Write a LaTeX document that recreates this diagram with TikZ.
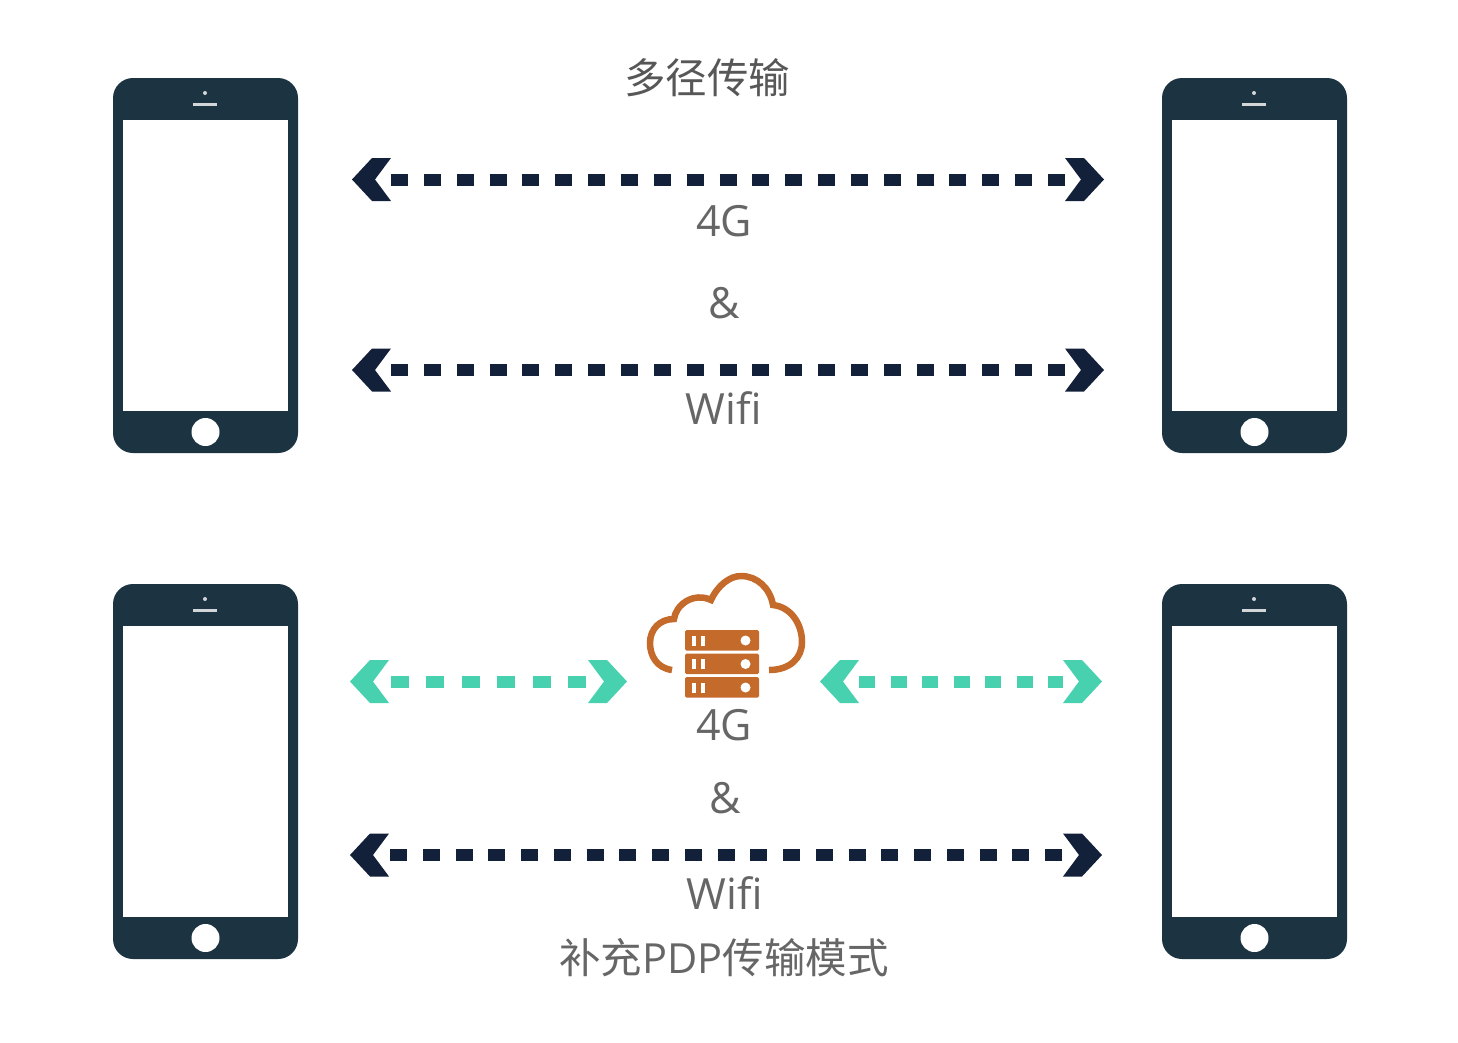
\documentclass[tikz,border=0pt]{standalone}
\usepackage{fontspec}
\setmainfont{Open Sans}
\newfontfamily\cjk{Noto Sans CJK SC}
\definecolor{phoneblue}{HTML}{1C3341}
\definecolor{linknavy}{HTML}{12203A}
\definecolor{linkteal}{HTML}{48D1AE}
\definecolor{cloudorange}{HTML}{C46A2B}
\definecolor{textgray}{HTML}{666666}
\tikzset{
  phonebody/.style={fill=phoneblue, rounded corners=20pt, minimum width=185pt, minimum height=375pt, inner sep=0pt},
  labeltext/.style={text=textgray, font=\fontsize{43}{46}\selectfont, inner sep=0pt},
  cjktext/.style={text=textgray, font=\fontsize{41.5}{44}\selectfont\cjk, inner sep=0pt},
  navylink/.style={linknavy, line width=12pt, shorten <=39pt, shorten >=39pt, dash pattern=on 17pt off 15.85pt},
  pics/chevron/.style={code={
    \fill[#1] (0,0)--(20,-21.5)--(39,-21.5)--(23,0)--(39,21.5)--(20,21.5)--cycle;
  }},
  pics/phone/.style={code={
    \node[phonebody] (-body) at (0,0) {};
    \fill[white] (-82.5,-145.5) rectangle (82.5,145.5);
    \fill[white] (0,166.5) circle (14);
    \fill[white!80!phoneblue] (-0.5,-172.5) circle (2);
    \fill[white!80!phoneblue] (-12.5,-163) rectangle (11.5,-160);
  }}
}

\begin{document}
\begin{tikzpicture}[x=1pt, y=-1pt]
\useasboundingbox (0,0) rectangle (1458,1042);
% phones
\pic (phoneA) at (205.5,265.5) {phone};
\pic (phoneB) at (1254.5,265.5) {phone};
\pic (phoneC) at (205.5,771.5) {phone};
\pic (phoneD) at (1254.5,771.5) {phone};
% link ends
\coordinate (fourL) at (352,179.5);
\coordinate (fourR) at (1104,179.5);
\coordinate (wifiL) at (352,370);
\coordinate (wifiR) at (1104,370);
\coordinate (pdpL) at (350,855);
\coordinate (pdpR) at (1102,855);
\coordinate (tealA) at (350,681.5);
\coordinate (tealB) at (627,681.5);
\coordinate (tealC) at (820,681.5);
\coordinate (tealD) at (1102,681.5);
% links
\draw[navylink] (fourL)--(fourR);
\draw[navylink] (wifiL)--(wifiR);
\draw[navylink, shorten <=40pt, shorten >=40pt, dash pattern=on 17pt off 15.75pt] (pdpL)--(pdpR);
\draw[navylink, linkteal, shorten <=41pt, shorten >=41pt, dash pattern=on 18pt off 17.4pt] (tealA)--(tealB);
\draw[navylink, linkteal, dash pattern=on 16pt off 15.5pt] (tealC)--(tealD);
\foreach \a/\b/\c in {fourL/fourR/linknavy, wifiL/wifiR/linknavy, pdpL/pdpR/linknavy, tealA/tealB/linkteal, tealC/tealD/linkteal}{
  \pic at (\a) {chevron=\c};
  \pic[rotate=180] at (\b) {chevron=\c};
}
% cloud
\draw[cloudorange, line width=6.5pt] (672,670)
  .. controls (657,668) and (650,656) .. (650,643)
  .. controls (650,629) and (660,619) .. (674,619)
  .. controls (676,604) and (694,592) .. (711,600)
  .. controls (718,585) and (730,576) .. (741,576)
  .. controls (757,576) and (770,588) .. (773,605)
  .. controls (791,607) and (802,624) .. (802,642)
  .. controls (802,658) and (790,670) .. (769,670);
\foreach \y in {630,653.5,677}{
  \fill[cloudorange, rounded corners=1.5pt] (685,\y) rectangle (759,\y+20.5);
  \fill[white] (692,\y+5.5) rectangle (696,\y+15.5);
  \fill[white] (701,\y+5.5) rectangle (705,\y+15.5);
  \fill[white] (745.5,\y+10.5) circle (5);
}
% labels
\node[cjktext, text=textgray!85!black] (title) at (707,78) {多径传输};
\node[labeltext] (fourtop) at (724,221) {4G};
\node[labeltext] (andtop) at (724,303) {\&};
\node[labeltext] (wifitop) at (724,408) {Wifi};
\node[labeltext] (fourlow) at (724,725) {4G};
\node[labeltext] (andlow) at (725,798) {\&};
\node[labeltext] (wifilow) at (725,893) {Wifi};
\node[cjktext] (pdpmode) at (724,958) {补充{\fontspec{Open Sans}PDP}传输模式};
\end{tikzpicture}
\end{document}
